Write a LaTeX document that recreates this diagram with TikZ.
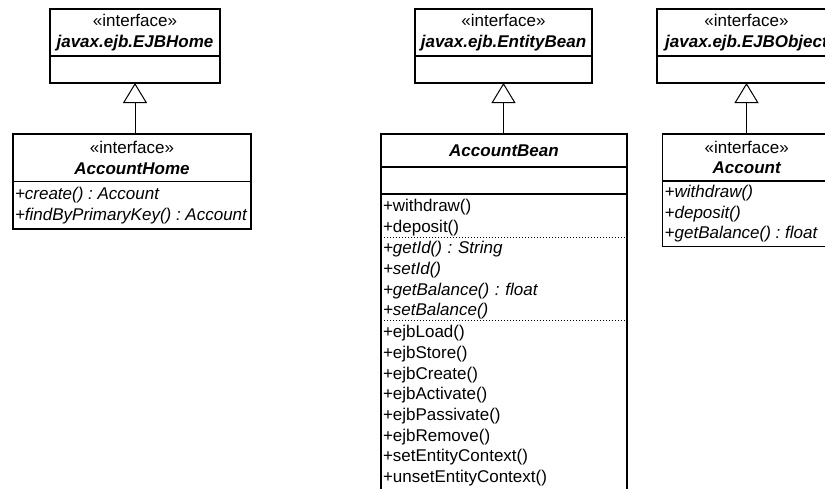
\documentclass[tikz,border=0pt]{standalone}
\usepackage{fontspec}
\setmainfont{Liberation Sans}
\usetikzlibrary{positioning,arrows.meta}
\frenchspacing

\begin{document}
\begin{tikzpicture}[x=1pt, y=-1pt,
		umltext/.style={font=\fontsize{17}{20.7}\selectfont},
		classbox/.style={umltext, draw, line width=1.3pt, rectangle, inner sep=0pt, outer sep=0pt, align=center},
		opsbox/.style={umltext, inner xsep=2pt, inner ysep=0pt, outer sep=0pt, align=left},
		abstractops/.style={opsbox, font=\fontsize{17}{20.7}\selectfont\itshape},
		frame/.style={line width=1.3pt},
		realize/.style={line width=1pt, -{Triangle[open, length=20pt, width=24pt, fill=white]}}]
	\useasboundingbox (0,0) rectangle (825,488);
	\clip (0,0) rectangle (825,488);

	\node[classbox, anchor=north west, minimum width=170, minimum height=47] (ejbhome) at (50,9) {«interface»\\\bfseries\itshape javax.ejb.EJBHome};
	\node[classbox, below=0pt of ejbhome, minimum width=170, minimum height=27] (ejbhomeattr) {};

	\node[classbox, anchor=north west, minimum width=238, minimum height=47.5] (accounthome) at (13,134) {«interface»\\\bfseries\itshape AccountHome};
	\node[classbox, below=0pt of accounthome, minimum width=238, minimum height=47.5] (accounthomeops) {};
	\node[abstractops, anchor=west, minimum height=47.5] (homeops) at (accounthomeops.west) {+create() : Account\\+findByPrimaryKey() : Account};

	\node[classbox, anchor=north west, minimum width=177, minimum height=47] (entitybean) at (415,9) {«interface»\\\bfseries\itshape javax.ejb.EntityBean};
	\node[classbox, below=0pt of entitybean, minimum width=177, minimum height=27] (entitybeanattr) {};

	\node[classbox, anchor=north west, minimum width=246, minimum height=33] (accountbean) at (381,134) {\bfseries\itshape AccountBean};
	\node[classbox, below=0pt of accountbean, minimum width=246, minimum height=27] (accountbeanattr) {};
	\node[opsbox, below=0pt of accountbeanattr, text width=242, minimum height=43, yshift=-2pt] (beanopsa) {+withdraw()\\+deposit()};
	\node[abstractops, below=0pt of beanopsa, text width=242, minimum height=83] (beanopsb) {+getId() : String\\+setId()\\+getBalance() : float\\+setBalance()};
	\node[opsbox, below=0pt of beanopsb, text width=242, minimum height=167.6] (beanopsc) {+ejbLoad()\\+ejbStore()\\+ejbCreate()\\+ejbActivate()\\+ejbPassivate()\\+ejbRemove()\\+setEntityContext()\\+unsetEntityContext()};
	\coordinate[below=12pt of beanopsc.south east] (beanend);
	\draw[frame] (accountbeanattr.south west) rectangle (beanend);
	\draw[line width=1pt, dotted] ([yshift=2pt]beanopsb.north west) -- ([yshift=2pt]beanopsb.north east);
	\draw[line width=1pt, dotted] ([yshift=2pt]beanopsc.north west) -- ([yshift=2pt]beanopsc.north east);

	\node[classbox, anchor=north west, minimum width=179, minimum height=47] (ejbobject) at (657,9) {«interface»\\\bfseries\itshape javax.ejb.EJBObject};
	\node[classbox, below=0pt of ejbobject, minimum width=179, minimum height=27] (ejbobjectattr) {};

	\node[classbox, anchor=north west, minimum width=168, minimum height=47] (account) at (662.7,134) {«interface»\\\bfseries\itshape Account};
	\node[classbox, below=0pt of account, minimum width=168, minimum height=65.7] (accountops) {};
	\node[abstractops, anchor=west, minimum height=65.7] (ifaceops) at (accountops.west) {+withdraw()\\+deposit()\\+getBalance() : float};

	\draw[realize] (ejbhomeattr.south |- accounthome.north) -- (ejbhomeattr.south);
	\draw[realize] (entitybeanattr.south |- accountbean.north) -- (entitybeanattr.south);
	\draw[realize] (ejbobjectattr.south |- account.north) -- (ejbobjectattr.south);
\end{tikzpicture}
\end{document}
